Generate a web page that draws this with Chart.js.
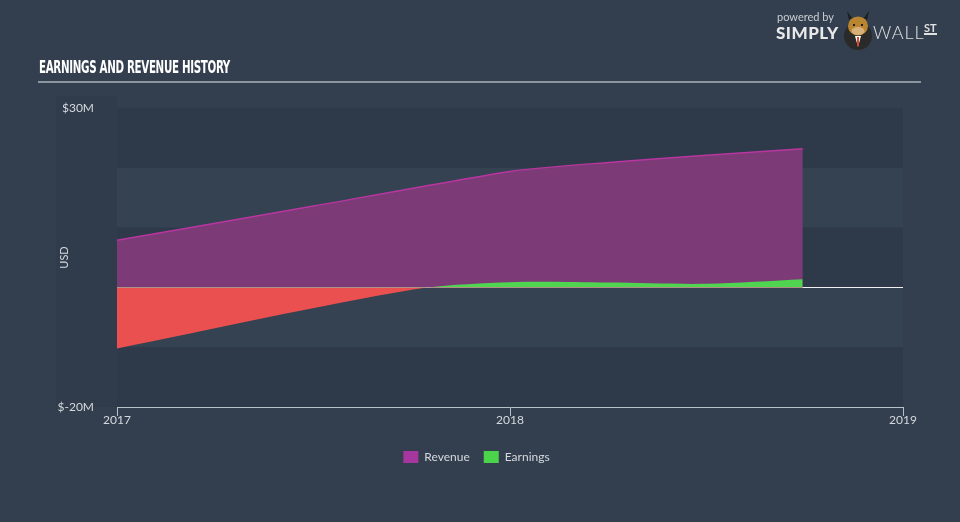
<!DOCTYPE html>
<html>
<head>
<meta charset="utf-8">
<script src="https://cdn.jsdelivr.net/npm/chart.js@4/dist/chart.umd.min.js"></script>
<style>
  html,body{margin:0;padding:0;background:#333f4f;}
  #wrap{position:relative;width:960px;height:522px;overflow:hidden;background:#333f4f;}
  canvas{position:absolute;left:0;top:0;}
  #title{position:absolute;left:39px;top:57px;font-family:"DejaVu Sans Condensed","Liberation Sans Narrow",sans-serif;font-weight:bold;font-size:17px;color:#ffffff;transform-origin:0 0;white-space:nowrap;letter-spacing:-0.5px;}
  #rule{position:absolute;left:38px;top:81px;width:883px;height:2px;background:#8c949e;}
  #powered{position:absolute;left:777px;top:10px;font-family:"Lato",sans-serif;font-size:11px;color:#c9cdd2;}
  #simply{position:absolute;left:776px;top:22px;font-family:"Lato",sans-serif;font-weight:900;font-size:17px;color:#e8e8e8;letter-spacing:0.5px;}
  #wall{position:absolute;left:873px;top:21px;font-family:"Lato",sans-serif;font-weight:300;font-size:18px;color:#e0e0e0;letter-spacing:1px;}
  #st{position:absolute;left:924px;top:22px;font-family:"Lato",sans-serif;font-weight:700;font-size:11px;color:#e0e0e0;border-bottom:2px solid #e0e0e0;line-height:11px;}
  #bull{position:absolute;left:842px;top:9px;}
</style>
</head>
<body>
<div id="wrap">
  <canvas id="c" width="960" height="522"></canvas>
  <div id="title">EARNINGS AND REVENUE HISTORY</div>
  <div id="rule"></div>
  <div id="powered">powered by</div>
  <div id="simply">SIMPLY</div>
  <canvas id="bull" width="32" height="42"></canvas>
  <div id="wall">WALL</div>
  <div id="st">ST</div>
</div>
<script>
// ---- data ----
const revenueX = [2017.0, 2017.5, 2018.0, 2018.25, 2018.5, 2018.745];
const revenueY = [7.9, 13.6, 19.4, 20.9, 22.1, 23.2];          // $M
const earningsX = [2017.0, 2017.75, 2018.0, 2018.25, 2018.5, 2018.745];
const earningsY = [-10.2, -0.4, 0.85, 0.8, 0.6, 1.35];          // $M
const xTicks = [2017, 2018, 2019];
const yTickLabels = {30: '$30M', '-20': '$-20M'};
const seriesNames = ['Revenue', 'Earnings'];

// fit title width
(function(){
  const t = document.getElementById('title');
  const w = t.getBoundingClientRect().width;
  t.style.transform = 'scaleX(' + (191 / w) + ')';
})();

// simple bull icon
(function(){
  const b = document.getElementById('bull').getContext('2d');
  b.fillStyle = '#2a2a2a';
  b.beginPath(); b.arc(16, 27, 14, 0, Math.PI*2); b.fill();
  b.fillStyle = '#ffffff';
  b.beginPath(); b.moveTo(13,27); b.lineTo(19,27); b.lineTo(16,38); b.fill();
  b.fillStyle = '#d9482b';
  b.fillRect(15,28,2,9);
  b.fillStyle = '#b9852f';
  b.beginPath(); b.ellipse(16, 17, 10, 9.5, 0, 0, Math.PI*2); b.fill();
  b.fillStyle = '#d8b07a';
  b.beginPath(); b.ellipse(16, 22, 6.5, 4, 0, 0, Math.PI*2); b.fill();
  b.fillStyle = '#1e1e1e';
  b.beginPath(); b.moveTo(7,11); b.lineTo(5,2); b.lineTo(10,9); b.fill();
  b.beginPath(); b.moveTo(25,11); b.lineTo(27,2); b.lineTo(22,9); b.fill();
  b.fillRect(11,15,2,2); b.fillRect(19,15,2,2);
})();

const bands = {
  id: 'bands',
  beforeDraw(chart) {
    const {ctx, chartArea: a, scales: {y}} = chart;
    ctx.save();
    ctx.fillStyle = '#303c4b';
    ctx.fillRect(56, a.top - 12, a.left - 56, a.bottom - a.top + 12);
    const edges = [30, 20, 10, 0, -10, -20];
    for (let i = 0; i < edges.length - 1; i++) {
      const y1 = y.getPixelForValue(edges[i]);
      const y2 = y.getPixelForValue(edges[i + 1]);
      ctx.fillStyle = (i % 2 === 0) ? '#2e3a49' : '#344252';
      ctx.fillRect(a.left, y1, a.right - a.left, y2 - y1);
    }
    ctx.restore();
  },
  beforeDatasetsDraw(chart) {
    const {ctx, chartArea: a, scales: {y}} = chart;
    const z = Math.round(y.getPixelForValue(0)) + 0.5;
    ctx.save();
    ctx.strokeStyle = '#f0f0f0';
    ctx.lineWidth = 1;
    ctx.beginPath(); ctx.moveTo(a.left, z); ctx.lineTo(a.right, z); ctx.stroke();
    ctx.restore();
  }
};

const toPts = (xs, ys) => xs.map((x, i) => ({x: x, y: ys[i]}));

new Chart(document.getElementById('c'), {
  type: 'line',
  data: {
    datasets: [
      {
        label: seriesNames[1],
        data: toPts(earningsX, earningsY),
        borderColor: 'rgba(0,0,0,0)',
        borderWidth: 0,
        backgroundColor: '#4cd34c',
        fill: {target: 'origin', above: '#4fd54f', below: '#ea5050'},
        pointRadius: 0,
        tension: 0.3,
        order: 1
      },
      {
        label: seriesNames[0],
        data: toPts(revenueX, revenueY),
        borderColor: '#b8369f',
        borderWidth: 1.5,
        backgroundColor: '#7c3a77',
        fill: 'origin',
        pointRadius: 0,
        tension: 0.2,
        order: 2
      }
    ]
  },
  options: {
    responsive: false,
    animation: false,
    layout: {padding: {left: 50, right: 57, top: 108, bottom: 49}},
    plugins: {
      legend: {
        position: 'bottom',
        reverse: true,
        labels: {
          color: '#d5d9de',
          font: {family: 'Lato', size: 12},
          boxWidth: 15,
          boxHeight: 12,
          padding: 14,
          generateLabels(chart) {
            return chart.data.datasets.map((d, i) => ({
              text: d.label,
              fillStyle: i === 0 ? '#4cd34c' : '#a8369f',
              strokeStyle: 'rgba(0,0,0,0)',
              lineWidth: 0,
              datasetIndex: i,
              fontColor: '#d5d9de'
            }));
          }
        }
      },
      tooltip: {enabled: false}
    },
    scales: {
      x: {
        type: 'linear',
        min: 2017, max: 2019,
        afterBuildTicks(s) { s.ticks = xTicks.map(v => ({value: v})); },
        afterFit(s) { s.height = 30; },
        ticks: {color: '#d5d9de', font: {family: 'Lato', size: 12}, padding: -3, maxRotation: 0,
                callback: v => String(v)},
        grid: {display: true, drawOnChartArea: false, color: '#b8c0c8', tickLength: 9, lineWidth: 1},
        border: {display: true, color: '#b8c0c8', width: 1}
      },
      y: {
        min: -20, max: 30,
        afterBuildTicks(s) { s.ticks = [{value: 30}, {value: -20}]; },
        afterFit(s) { s.width = 67; },
        ticks: {color: '#d5d9de', font: {family: 'Lato', size: 12}, padding: 15,
                callback: v => yTickLabels[v] || ''},
        grid: {display: false},
        border: {display: false},
        title: {display: true, text: 'USD', color: '#d5d9de', font: {family: 'Lato', size: 11}, padding: {top: 8, bottom: 0}}
      }
    }
  },
  plugins: [bands]
});
</script>
</body>
</html>
